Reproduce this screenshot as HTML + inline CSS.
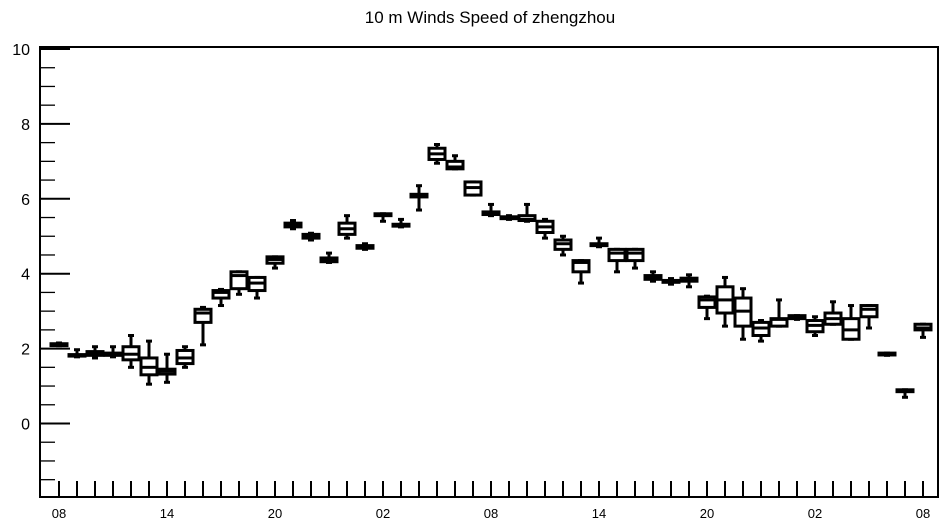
<!DOCTYPE html>
<html><head><meta charset="utf-8"><style>
html,body{margin:0;padding:0;background:#fff;}
svg{display:block;font-family:"Liberation Sans",sans-serif;}
</style></head><body>
<svg id="chart" width="945" height="525" viewBox="0 0 945 525" xmlns="http://www.w3.org/2000/svg">
<text x="490" y="23" text-anchor="middle" font-size="17">10 m Winds Speed of zhengzhou</text>
<g id="axes"></g>
<g id="boxes"></g>
</svg>
<script>
const yTicks = [0, 2, 4, 6, 8, 10];
const xTickLabels = ["08","14","20","02","08","14","20","02","08"];
const mins = [2.08,1.78,1.75,1.78,1.5,1.05,1.1,1.5,2.1,3.15,3.45,3.35,4.15,5.2,4.9,4.3,4.95,4.65,5.4,5.25,5.7,6.95,6.8,6.1,5.55,5.45,5.4,4.95,4.5,3.75,4.72,4.05,4.15,3.8,3.72,3.65,2.8,2.6,2.25,2.2,2.6,2.78,2.35,2.65,2.25,2.55,1.82,0.7,2.3];
const q1s = [2.08,1.8,1.82,1.82,1.7,1.3,1.32,1.6,2.7,3.35,3.6,3.55,4.28,5.25,4.95,4.32,5.05,4.68,5.55,5.27,6.05,7.05,6.8,6.1,5.58,5.47,5.42,5.1,4.65,4.05,4.75,4.35,4.35,3.85,3.77,3.8,3.1,2.95,2.6,2.35,2.6,2.8,2.45,2.65,2.25,2.85,1.83,0.85,2.5];
const medians = [2.1,1.82,1.87,1.85,1.85,1.5,1.4,1.75,2.95,3.5,3.95,3.75,4.38,5.3,5.0,4.35,5.2,4.72,5.57,5.3,6.1,7.2,6.85,6.3,5.62,5.5,5.45,5.25,4.8,4.3,4.78,4.55,4.55,3.9,3.8,3.85,3.3,3.3,3.0,2.55,2.78,2.85,2.62,2.8,2.5,3.05,1.85,0.87,2.55];
const q3s = [2.13,1.84,1.92,1.88,2.05,1.75,1.45,1.95,3.05,3.55,4.05,3.9,4.45,5.35,5.05,4.42,5.35,4.75,5.6,5.32,6.12,7.35,7.0,6.45,5.65,5.52,5.55,5.4,4.9,4.35,4.8,4.65,4.65,3.95,3.82,3.88,3.38,3.65,3.35,2.7,2.8,2.88,2.75,2.95,2.8,3.15,1.88,0.9,2.65];
const maxs = [2.15,1.97,2.05,2.05,2.35,2.2,1.85,2.05,3.1,3.58,4.05,3.9,4.45,5.42,5.08,4.55,5.55,4.8,5.6,5.45,6.35,7.45,7.15,6.45,5.85,5.55,5.85,5.45,5.0,4.35,4.95,4.65,4.65,4.05,3.87,3.97,3.4,3.9,3.6,2.75,3.3,2.88,2.85,3.25,3.15,3.15,1.88,0.9,2.65];

const NS = "http://www.w3.org/2000/svg";
const L = 40, R = 938, T = 47, B = 497;
function yScale(v){ return 423.5 - 37.45 * v; }
function xScale(i){ return 59 + 18 * i; }
function mk(tag, attrs, parent){
  const e = document.createElementNS(NS, tag);
  for (const k in attrs) e.setAttribute(k, attrs[k]);
  parent.appendChild(e);
  return e;
}
const axes = document.getElementById("axes");
const frame = mk("rect", {x:L, y:T, width:R-L, height:B-T, fill:"none", stroke:"#000", "stroke-width":2}, axes);


// y ticks (major + minor)
for (let v = -1.5; v <= 10.001; v += 0.5) {
  const major = Math.abs(v - Math.round(v/2)*2) < 1e-6;
  const y = yScale(v);
  if (y > B - 1) continue;
  const t = mk("line", {x1:L, x2:L + (major ? 30 : 15), y1:y, y2:y, stroke:"#000", "stroke-width": major ? 2 : 1.3}, axes);
  
  
}
yTicks.forEach(v => {
  const t = mk("text", {x:30, y:yScale(v)+6, "text-anchor":"end", "font-size":16}, axes);
  t.textContent = String(v);
  
  
});
// x ticks
for (let i = 0; i < mins.length; i++) {
  const x = xScale(i);
  const t = mk("line", {x1:x, x2:x, y1:B, y2:B-16, stroke:"#000", "stroke-width":2}, axes);
  
  
}
xTickLabels.forEach((s, k) => {
  const t = mk("text", {x:xScale(k*6), y:518, "text-anchor":"middle", "font-size":13}, axes);
  t.textContent = s;
  
  
});
// boxes
const boxes = document.getElementById("boxes");
for (let i = 0; i < mins.length; i++) {
  const g = mk("g", {stroke:"#000", fill:"none", "stroke-width":3}, boxes);
  
  
  const x = xScale(i), w = 16;
  const yq1 = yScale(q1s[i]), yq3 = yScale(q3s[i]);
  mk("line", {x1:x, x2:x, y1:yScale(maxs[i]), y2:yq3}, g);
  mk("line", {x1:x, x2:x, y1:yq1, y2:yScale(mins[i])}, g);
  mk("line", {x1:x-3, x2:x+3, y1:yScale(maxs[i]), y2:yScale(maxs[i])}, g);
  mk("line", {x1:x-3, x2:x+3, y1:yScale(mins[i]), y2:yScale(mins[i])}, g);
  mk("rect", {x:x-w/2, y:yq3, width:w, height:Math.max(yq1-yq3, 1), fill:"#fff"}, g);
  mk("line", {x1:x-w/2, x2:x+w/2, y1:yScale(medians[i]), y2:yScale(medians[i])}, g);
}
</script>
</body></html>
